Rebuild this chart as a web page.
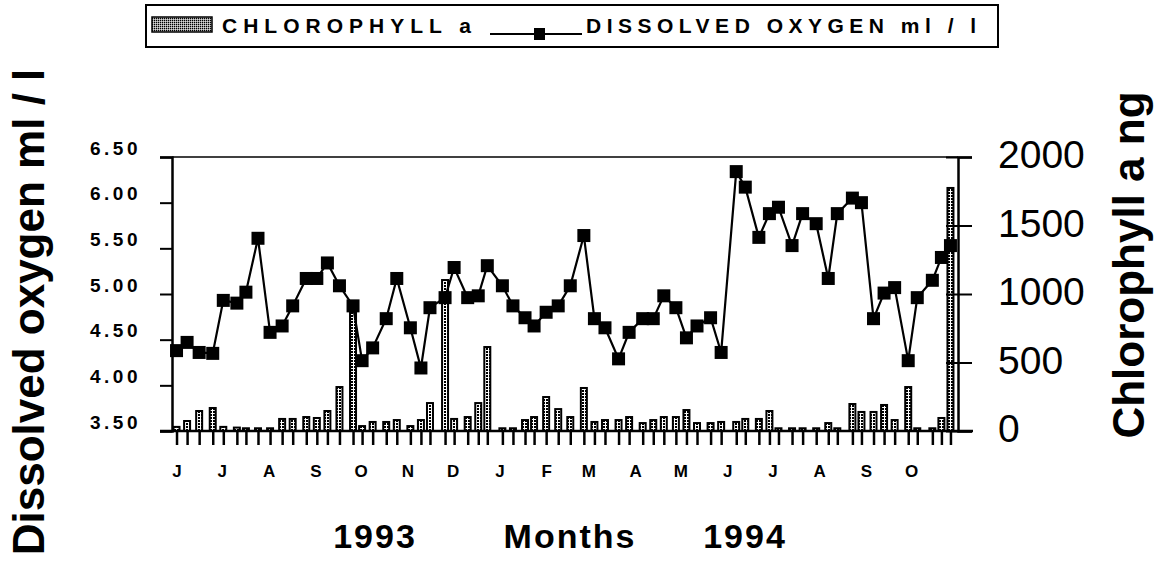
<!DOCTYPE html>
<html>
<head>
<meta charset="utf-8">
<script src="https://cdn.jsdelivr.net/npm/d3@7"></script>
<style>
  body { margin: 0; background: #fff; }
  svg { display: block; }
  text { fill: #000; }
</style>
</head>
<body>
<div id="chart"></div>
<script>
// Sampling days, counted from 1 June 1993
const sampleDays = [
  0, 7, 15, 24, 31, 40, 46, 54, 62, 70, 77, 86, 93, 100, 108, 117, 123, 130,
  139, 146, 155, 162, 168, 178, 184, 193, 200, 206, 216, 223, 231, 237, 245,
  253, 261, 270, 277, 284, 293, 300, 309, 316, 323, 331, 338, 345, 354, 361,
  371, 377, 386, 393, 399, 408, 415, 424, 432, 438, 448, 454, 462, 469, 476,
  485, 491, 501, 507, 513,
];

// Dissolved oxygen, ml/l
const oxygen = [
  4.38, 4.47, 4.36, 4.35, 4.93, 4.9, 5.02, 5.61, 4.58, 4.65, 4.87, 5.17, 5.17,
  5.34, 5.09, 4.87, 4.27, 4.41, 4.73, 5.17, 4.63, 4.19, 4.85, 4.96, 5.29, 4.96,
  4.98, 5.31, 5.09, 4.87, 4.74, 4.65, 4.8, 4.87, 5.09, 5.64, 4.73, 4.63, 4.29,
  4.58, 4.73, 4.73, 4.98, 4.85, 4.52, 4.65, 4.74, 4.36, 6.34, 6.17, 5.62, 5.88,
  5.95, 5.53, 5.88, 5.77, 5.17, 5.88, 6.05, 6.0, 4.73, 5.01, 5.07, 4.27, 4.96,
  5.15, 5.4, 5.53,
];

// Chlorophyll a, ng
const chlorophyll = [
  30, 73, 146, 168, 30, 25, 20, 20, 20, 88, 88, 102, 95, 146, 321, 934, 36, 66,
  66, 80, 36, 80, 204, 1102, 88, 102, 204, 613, 20, 20, 80, 102, 248, 160, 102,
  314, 66, 80, 80, 102, 58, 80, 102, 102, 153, 58, 58, 66, 66, 88, 88, 146, 20,
  20, 20, 20, 58, 20, 197, 139, 139, 190, 80, 321, 20, 20, 95, 1774,
];

const monthLetters = ["J", "F", "M", "A", "M", "J", "J", "A", "S", "O", "N", "D"];
const oxygenTicks = [3.5, 4.0, 4.5, 5.0, 5.5, 6.0, 6.5];
const chlTicks = [0, 500, 1000, 1500, 2000];
const bottomTitles = ["1993", "Months", "1994"];

const width = 1156;
const height = 564;
const margin = { top: 157, right: 198, bottom: 133, left: 172 };

const start = new Date(1993, 5, 1);
const end = new Date(1994, 10, 1);
const samples = sampleDays.map((d, i) => ({
  date: d3.timeDay.offset(start, d),
  oxygen: oxygen[i],
  chl: chlorophyll[i],
}));

const font = "'Liberation Sans', Arial, sans-serif";

const svg = d3
  .select("#chart")
  .append("svg")
  .attr("width", width)
  .attr("height", height);

svg.append("rect").attr("width", width).attr("height", height).attr("fill", "#fff");

// Dotted fills: one for the bars, a darker one for the legend swatch
function addDots(id, size, dot) {
  const p = svg
    .append("defs")
    .append("pattern")
    .attr("id", id)
    .attr("width", size)
    .attr("height", size)
    .attr("patternUnits", "userSpaceOnUse");
  p.append("rect").attr("width", size).attr("height", size).attr("fill", "#fff");
  p.append("rect").attr("width", dot).attr("height", dot).attr("fill", "#000");
}
addDots("dots", 3, 2);
addDots("dots-dark", 2, 1.4);

const x = d3
  .scaleTime()
  .domain([d3.timeDay.offset(start, -3), end])
  .range([margin.left, width - margin.right]);

const yO = d3
  .scaleLinear()
  .domain([3.5, 6.5])
  .range([height - margin.bottom, margin.top]);

const yC = d3
  .scaleLinear()
  .domain([0, 2000])
  .range([height - margin.bottom, margin.top]);

const x0 = margin.left;
const x1 = width - margin.right;
const yBottom = height - margin.bottom;

// top frame line
svg
  .append("line")
  .attr("x1", x0)
  .attr("x2", x1)
  .attr("y1", margin.top)
  .attr("y2", margin.top)
  .attr("stroke", "#000")
  .attr("stroke-width", 1.5);

// Chlorophyll bars
svg
  .append("g")
  .selectAll("rect")
  .data(samples)
  .join("rect")
  .attr("x", (d) => x(d.date) - 3)
  .attr("y", (d) => yC(d.chl))
  .attr("width", 6)
  .attr("height", (d) => yC(0) - yC(d.chl))
  .attr("fill", "url(#dots)")
  .attr("stroke", "#000")
  .attr("stroke-width", 2);

// Oxygen line + square markers
const line = d3
  .line()
  .x((d) => x(d.date))
  .y((d) => yO(d.oxygen));

svg
  .append("path")
  .datum(samples)
  .attr("d", line)
  .attr("fill", "none")
  .attr("stroke", "#000")
  .attr("stroke-width", 2.2);

svg
  .append("g")
  .selectAll("rect")
  .data(samples)
  .join("rect")
  .attr("x", (d) => x(d.date) - 6.5)
  .attr("y", (d) => yO(d.oxygen) - 6.5)
  .attr("width", 13)
  .attr("height", 13)
  .attr("fill", "#000");

// Left axis
const leftAxis = svg
  .append("g")
  .attr("transform", `translate(${x0},0)`)
  .call(
    d3
      .axisLeft(yO)
      .tickValues(oxygenTicks)
      .tickFormat(d3.format(".2f"))
      .tickSize(12)
      .tickPadding(19)
  );
leftAxis.select(".domain").attr("stroke-width", 2.5);
leftAxis.selectAll(".tick line").attr("stroke-width", 2);
leftAxis
  .selectAll(".tick text")
  .attr("dy", "-0.15em")
  .attr("font-family", font)
  .attr("font-weight", "bold")
  .attr("font-size", 19)
  .attr("letter-spacing", 3.5);

// Right axis, ticks cross the line
const rightAxis = svg
  .append("g")
  .attr("transform", `translate(${x1},0)`)
  .call(
    d3
      .axisRight(yC)
      .tickValues(chlTicks)
      .tickFormat(d3.format("d"))
      .tickSize(14)
      .tickPadding(26)
  );
rightAxis.select(".domain").attr("stroke-width", 2.5);
rightAxis.selectAll(".tick line").attr("x1", -12).attr("stroke-width", 2);
rightAxis
  .selectAll(".tick text")
  .attr("dy", "0.27em")
  .attr("font-family", font)
  .attr("font-size", 39);

// Bottom axis: one tick per sample
const sampleAxis = svg
  .append("g")
  .attr("transform", `translate(0,${yBottom})`)
  .call(
    d3
      .axisBottom(x)
      .tickValues(samples.map((d) => d.date))
      .tickFormat("")
      .tickSize(14)
      .tickSizeOuter(0)
  );
sampleAxis
  .select(".domain")
  .attr("d", `M${x0 - 12},0H${x1 + 15}`)
  .attr("stroke-width", 2.5);
sampleAxis.selectAll(".tick line").attr("stroke-width", 2.5);

// Month letters
const monthAxis = svg
  .append("g")
  .attr("transform", `translate(0,${yBottom})`)
  .call(
    d3
      .axisBottom(x)
      .tickValues(d3.timeMonth.range(start, end))
      .tickFormat((d) => monthLetters[d.getMonth()])
      .tickSize(0)
      .tickPadding(34)
  );
monthAxis.select(".domain").remove();
monthAxis
  .selectAll(".tick text")
  .attr("font-family", font)
  .attr("font-weight", "bold")
  .attr("font-size", 17);

// Axis titles
svg
  .append("text")
  .attr("transform", "translate(44,312) rotate(-90)")
  .attr("text-anchor", "middle")
  .attr("font-family", font)
  .attr("font-weight", "bold")
  .attr("font-size", 44)
  .text("Dissolved oxygen ml / l");

svg
  .append("text")
  .attr("transform", "translate(1144,265) rotate(-90)")
  .attr("text-anchor", "middle")
  .attr("font-family", font)
  .attr("font-weight", "bold")
  .attr("font-size", 44)
  .text("Chlorophyll a ng");

const titleX = { 1993: 375, Months: 570, 1994: 745 };
svg
  .append("g")
  .selectAll("text")
  .data(bottomTitles)
  .join("text")
  .attr("x", (d) => titleX[d])
  .attr("y", 548)
  .attr("text-anchor", "middle")
  .attr("font-family", font)
  .attr("font-weight", "bold")
  .attr("font-size", 34)
  .attr("letter-spacing", 2)
  .text((d) => d);

// Legend
const legend = svg.append("g");
legend
  .append("rect")
  .attr("x", 146)
  .attr("y", 5)
  .attr("width", 852)
  .attr("height", 42)
  .attr("fill", "none")
  .attr("stroke", "#000")
  .attr("stroke-width", 2);
legend
  .append("rect")
  .attr("x", 152)
  .attr("y", 17)
  .attr("width", 60)
  .attr("height", 15)
  .attr("fill", "url(#dots-dark)")
  .attr("stroke", "#000")
  .attr("stroke-width", 1.5);
legend
  .append("text")
  .attr("x", 222)
  .attr("y", 33)
  .attr("font-family", font)
  .attr("font-weight", "bold")
  .attr("font-size", 21)
  .attr("letter-spacing", 6)
  .text("CHLOROPHYLL a");
legend
  .append("line")
  .attr("x1", 490)
  .attr("x2", 582)
  .attr("y1", 34)
  .attr("y2", 34)
  .attr("stroke", "#000")
  .attr("stroke-width", 2);
legend
  .append("rect")
  .attr("x", 534)
  .attr("y", 28)
  .attr("width", 11)
  .attr("height", 12)
  .attr("fill", "#000");
legend
  .append("text")
  .attr("x", 586)
  .attr("y", 33)
  .attr("font-family", font)
  .attr("font-weight", "bold")
  .attr("font-size", 21)
  .attr("letter-spacing", 5.5)
  .text("DISSOLVED OXYGEN ml / l");
</script>
</body>
</html>
